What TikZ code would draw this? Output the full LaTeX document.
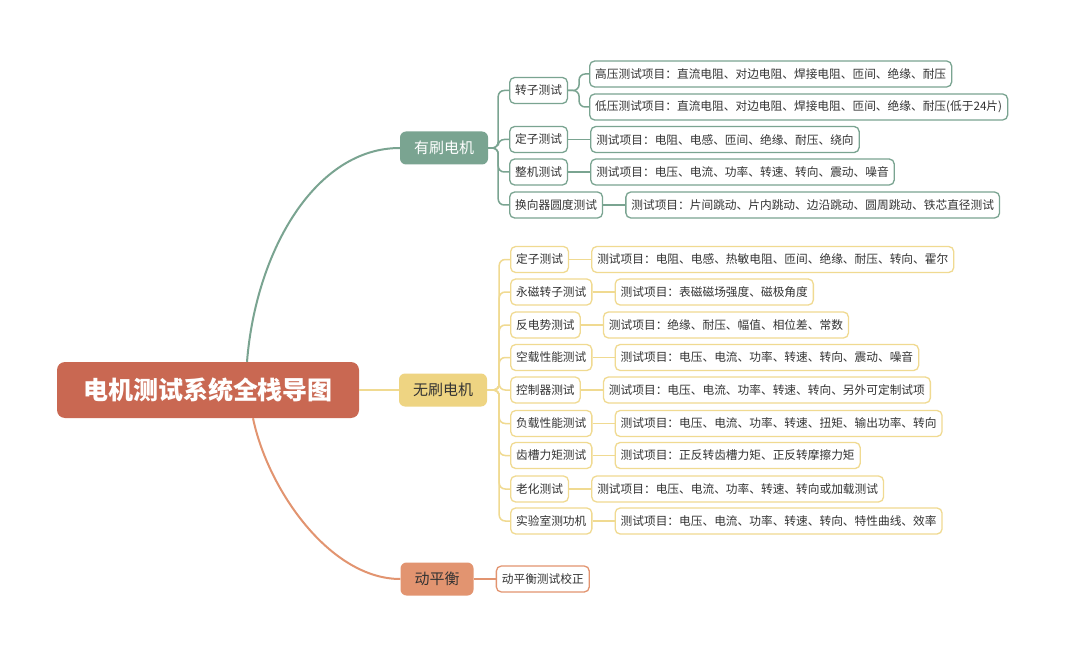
\documentclass[tikz,border=0pt]{standalone}
\usepackage{fontspec}
\setmainfont{Noto Sans CJK SC}
\usetikzlibrary{positioning}
\definecolor{mmroot}{RGB}{201,104,82}
\definecolor{mmteal}{RGB}{122,164,145}
\definecolor{mmyel}{RGB}{238,212,130}
\definecolor{mmyelline}{RGB}{240,218,145}
\definecolor{mmorg}{RGB}{226,148,112}
\definecolor{mmtext}{RGB}{51,51,51}
\tikzset{
  mmbox/.style={
    rounded corners=5pt, fill=white, line width=1.3pt,
    text=mmtext, font=\fontsize{11.7}{14}\selectfont,
    inner xsep=5.5pt, inner ysep=0pt, minimum height=26pt
  },
  yssub/.style={mmbox, draw=mmteal},
  wssub/.style={mmbox, draw=mmyelline},
  dphsub/.style={mmbox, draw=mmorg},
  mainbox/.style={
    rounded corners=6pt, text=mmtext, font=\fontsize{15}{18}\selectfont,
    inner xsep=14pt, inner ysep=0pt, minimum height=33pt
  },
  rootbox/.style={
    fill=mmroot, rounded corners=8pt, text=white,
    font=\fontsize{25}{30}\selectfont\bfseries,
    minimum width=302pt, minimum height=56pt
  },
  yslink/.style={draw=mmteal, line width=1.5pt, rounded corners=6pt},
  wslink/.style={draw=mmyelline, line width=1.5pt, rounded corners=6pt},
  dphlink/.style={draw=mmorg, line width=1.5pt},
  trunk/.style={line width=2pt}
}
\begin{document}
\begin{tikzpicture}[x=1pt, y=-1pt]
  \useasboundingbox[fill=white] (0,0) rectangle (1080,658);

  % root and main branches
  \node[rootbox] (root) at (208,390) {电机测试系统全栈导图};
  \node[mainbox, fill=mmteal, text=white] (ys) at (444,148) {有刷电机};
  \node[mainbox, fill=mmyel] (ws) at (443,390) {无刷电机};
  \node[mainbox, fill=mmorg] (dph) at (437,579) {动平衡};

  \draw[yslink, trunk] ([xshift=39pt]root.north) .. controls +(9,-112) and +(-84,0) .. (ys.west);
  \draw[wslink, trunk] (root.east) -- (ws.west);
  \draw[dphlink, trunk] ([xshift=45pt]root.south) .. controls +(15,72) and +(-70,0) .. (dph.west);

  % brushed motor
  \node[yssub, anchor=west] (yzz) at (509,90.5) {转子测试};
  \node[yssub, anchor=west] (ydz) at (509,139.5) {定子测试};
  \node[yssub, anchor=west] (yzj) at (509,172) {整机测试};
  \node[yssub, anchor=west] (yhx) at (509,205) {换向器圆度测试};

  \node[yssub, anchor=west] (yzzg) at (589,74) {高压测试项目：直流电阻、对边电阻、焊接电阻、匝间、绝缘、耐压};
  \node[yssub, anchor=west] (yzzd) at (589,107) {低压测试项目：直流电阻、对边电阻、焊接电阻、匝间、绝缘、耐压(低于24片)};
  \node[yssub, right=22pt of ydz] (ydzx) {测试项目：电阻、电感、匝间、绝缘、耐压、绕向};
  \node[yssub, right=22pt of yzj] (yzjx) {测试项目：电压、电流、功率、转速、转向、震动、噪音};
  \node[yssub, right=22pt of yhx] (yhxx) {测试项目：片间跳动、片内跳动、边沿跳动、圆周跳动、铁芯直径测试};

  \coordinate (ysT) at ([xshift=10pt]ys.east);
  \foreach \c in {yzz,ydz,yzj,yhx}
    \draw[yslink] (ys.east) -- (ysT) |- (\c.west);
  \coordinate (yzzT) at ([xshift=11pt]yzz.east);
  \foreach \c in {yzzg,yzzd}
    \draw[yslink] (yzz.east) -- (yzzT) |- (\c.west);
  \foreach \c in {ydz,yzj,yhx}
    \draw[yslink] (\c.east) -- (\c x.west);

  % brushless motor
  \node[wssub, anchor=west] (wdz) at (510,259.5) {定子测试};
  \node[wssub, anchor=west] (wyc) at (510,292) {永磁转子测试};
  \node[wssub, anchor=west] (wfd) at (510,325) {反电势测试};
  \node[wssub, anchor=west] (wkz) at (510,357.5) {空载性能测试};
  \node[wssub, anchor=west] (wkq) at (510,390) {控制器测试};
  \node[wssub, anchor=west] (wfz) at (510,423.5) {负载性能测试};
  \node[wssub, anchor=west] (wcc) at (510,455.5) {齿槽力矩测试};
  \node[wssub, anchor=west] (wlh) at (510,489) {老化测试};
  \node[wssub, anchor=west] (wsy) at (510,521) {实验室测功机};

  \node[wssub, right=22pt of wdz] (wdzx) {测试项目：电阻、电感、热敏电阻、匝间、绝缘、耐压、转向、霍尔};
  \node[wssub, right=22pt of wyc] (wycx) {测试项目：表磁磁场强度、磁极角度};
  \node[wssub, right=22pt of wfd] (wfdx) {测试项目：绝缘、耐压、幅值、相位差、常数};
  \node[wssub, right=22pt of wkz] (wkzx) {测试项目：电压、电流、功率、转速、转向、震动、噪音};
  \node[wssub, right=22pt of wkq] (wkqx) {测试项目：电压、电流、功率、转速、转向、另外可定制试项};
  \node[wssub, right=22pt of wfz] (wfzx) {测试项目：电压、电流、功率、转速、扭矩、输出功率、转向};
  \node[wssub, right=22pt of wcc] (wccx) {测试项目：正反转齿槽力矩、正反转摩擦力矩};
  \node[wssub, right=22pt of wlh] (wlhx) {测试项目：电压、电流、功率、转速、转向或加载测试};
  \node[wssub, right=22pt of wsy] (wsyx) {测试项目：电压、电流、功率、转速、转向、特性曲线、效率};

  \coordinate (wsT) at ([xshift=12pt]ws.east);
  \foreach \c in {wdz,wyc,wfd,wkz,wkq,wfz,wcc,wlh,wsy} {
    \draw[wslink] (ws.east) -- (wsT) |- (\c.west);
    \draw[wslink] (\c.east) -- (\c x.west);
  }

  % dynamic balance
  \node[dphsub, right=22pt of dph] (dphx) {动平衡测试校正};
  \draw[dphlink] (dph.east) -- (dphx.west);
\end{tikzpicture}
\end{document}
